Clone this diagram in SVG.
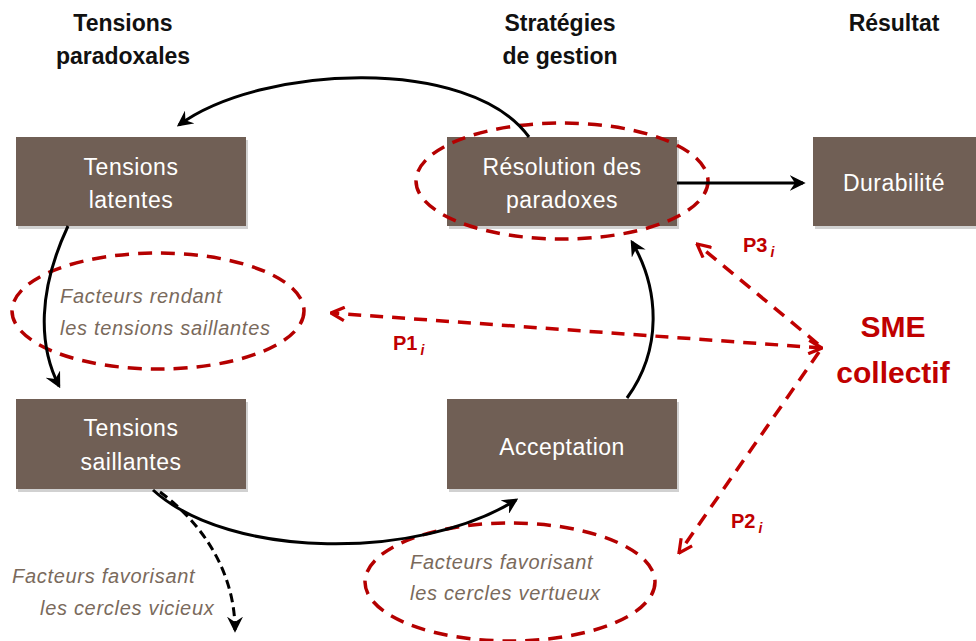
<svg xmlns="http://www.w3.org/2000/svg" width="976" height="641" viewBox="0 0 976 641">
<style>
.box{fill:#705F55}
.shadow{fill:#999;opacity:0.45}
.bt{font-family:"Liberation Sans",Arial,sans-serif;font-size:23px;letter-spacing:0.5px;fill:#fff;text-anchor:middle}
.hd{font-family:"Liberation Sans",Arial,sans-serif;font-size:23px;font-weight:bold;fill:#111;text-anchor:middle}
.it{font-family:"Liberation Sans",Arial,sans-serif;font-size:20px;font-style:italic;letter-spacing:0.7px;fill:#7A6A5C}
.red{fill:none;stroke:#B40000;stroke-width:3.5;stroke-dasharray:14 9}
.rl{fill:none;stroke:#C00000;stroke-width:3.5;stroke-dasharray:13 9}
.bl{fill:none;stroke:#000;stroke-width:3}
.bd{fill:none;stroke:#000;stroke-width:3;stroke-dasharray:9 5}
.pl{font-family:"Liberation Sans",Arial,sans-serif;font-size:20px;font-weight:bold;fill:#C00000}
.sub{font-size:14px;font-style:italic}
.sme{font-family:"Liberation Sans",Arial,sans-serif;font-size:30px;font-weight:bold;fill:#C00000;text-anchor:middle}
</style>
<defs>
<marker id="ah" viewBox="0 0 12 12" refX="10" refY="6" markerWidth="16" markerHeight="16" markerUnits="userSpaceOnUse" orient="auto"><path d="M0,0 L12,6 L0,12 L4,6 z" fill="#000"/></marker>
<marker id="rh" viewBox="0 0 12 12" refX="11" refY="6" markerWidth="16" markerHeight="16" markerUnits="userSpaceOnUse" orient="auto-start-reverse"><path d="M1,1 L11,6 L1,11" fill="none" stroke="#C00000" stroke-width="2.4"/></marker>
</defs>

<g id="headers">
<text class="hd" x="123" y="31">Tensions</text>
<text class="hd" x="123" y="64">paradoxales</text>
<text class="hd" x="560" y="31">Stratégies</text>
<text class="hd" x="560" y="64">de gestion</text>
<text class="hd" x="894" y="31">Résultat</text>
</g>

<g id="tensions-latentes">
<rect class="shadow" x="18" y="140" width="230" height="89"/>
<rect class="box" x="16" y="137" width="230" height="89"/>
<text class="bt" x="131" y="175">Tensions</text>
<text class="bt" x="131" y="208">latentes</text>
</g>

<g id="resolution">
<rect class="shadow" x="449" y="140" width="230" height="89"/>
<rect class="box" x="447" y="137" width="230" height="89"/>
<text class="bt" x="562" y="175">Résolution des</text>
<text class="bt" x="562" y="208">paradoxes</text>
</g>

<g id="durabilite">
<rect class="shadow" x="815" y="140" width="165" height="89"/>
<rect class="box" x="813" y="137" width="165" height="89"/>
<text class="bt" x="894" y="191">Durabilité</text>
</g>

<g id="tensions-saillantes">
<rect class="shadow" x="18" y="402" width="230" height="90"/>
<rect class="box" x="16" y="399" width="230" height="90"/>
<text class="bt" x="131" y="436">Tensions</text>
<text class="bt" x="131" y="470">saillantes</text>
</g>

<g id="acceptation">
<rect class="shadow" x="449" y="402" width="230" height="90"/>
<rect class="box" x="447" y="399" width="230" height="90"/>
<text class="bt" x="562" y="455">Acceptation</text>
</g>

<g id="facteurs-rendant">
<ellipse class="red" cx="158" cy="311" rx="146" ry="58"/>
<text class="it" x="60" y="303">Facteurs rendant</text>
<text class="it" x="60" y="335">les tensions saillantes</text>
</g>

<g id="facteurs-vertueux">
<ellipse class="red" cx="510" cy="582" rx="145" ry="59"/>
<text class="it" x="410" y="569">Facteurs favorisant</text>
<text class="it" x="410" y="600">les cercles vertueux</text>
</g>

<g id="facteurs-vicieux">
<text class="it" x="12" y="583">Facteurs favorisant</text>
<text class="it" x="40" y="615">les cercles vicieux</text>
</g>

<g id="resolution-ellipse">
<ellipse class="red" cx="562" cy="181" rx="146" ry="58"/>
</g>

<g id="sme">
<text class="sme" x="893" y="337">SME</text>
<text class="sme" x="893" y="383">collectif</text>
</g>

<g id="connectors">
<path class="bl" d="M529,137 C470,55 260,65 179,125" marker-end="url(#ah)"/>
<path class="bl" d="M68,226 C38,290 38,345 59,386" marker-end="url(#ah)"/>
<path class="bl" d="M153,490 C230,560 420,560 516,500" marker-end="url(#ah)"/>
<path class="bl" d="M627,398 C662,350 660,290 632,242" marker-end="url(#ah)"/>
<path class="bl" d="M677,183 L803,183" marker-end="url(#ah)"/>
<path class="bd" d="M160,492 C205,525 235,575 235,630" marker-end="url(#ah)"/>
<path class="rl" d="M822,348 L331,313" marker-start="url(#rh)" marker-end="url(#rh)"/>
<path class="rl" d="M818,344 L697,244" marker-end="url(#rh)"/>
<path class="rl" d="M819,352 L679,553" marker-end="url(#rh)"/>
<text class="pl" x="393" y="350">P1<tspan class="sub" dx="3" dy="5">i</tspan></text>
<text class="pl" x="743" y="252">P3<tspan class="sub" dx="3" dy="5">i</tspan></text>
<text class="pl" x="731" y="528">P2<tspan class="sub" dx="3" dy="5">i</tspan></text>
</g>
</svg>
